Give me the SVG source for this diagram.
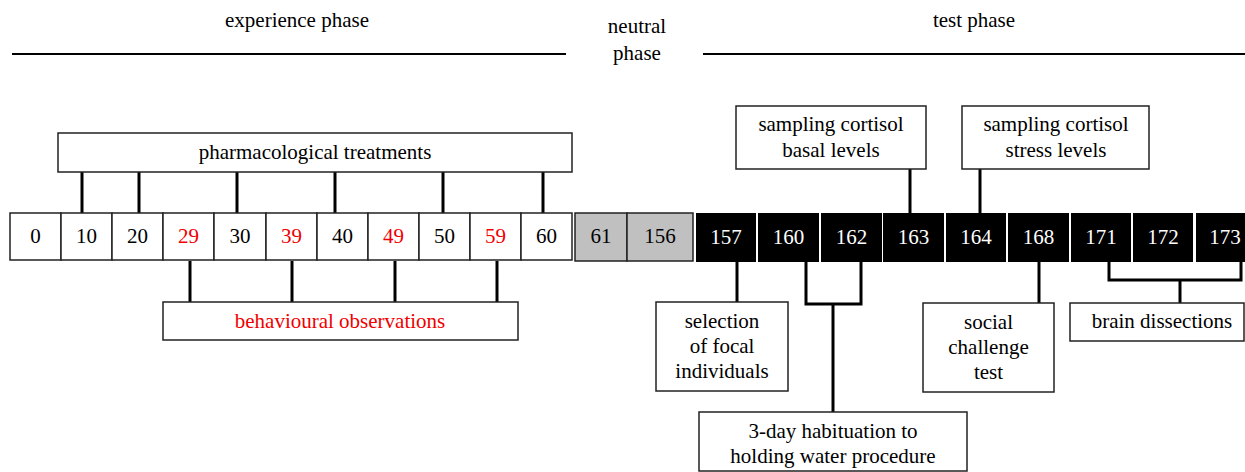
<svg xmlns="http://www.w3.org/2000/svg" width="1245" height="472" viewBox="0 0 1245 472">
<style>
text{font-size:21px;text-anchor:middle;fill:#000}
.red{fill:#f00000}
.wt{fill:#fff}
.box{fill:#fff;stroke:#222;stroke-width:1.5}
.cell{fill:#fff;stroke:#222;stroke-width:1.5}
.gray{fill:#c0c0c0;stroke:#222;stroke-width:1.5}
.blk{fill:#000}
.con{fill:none;stroke:#000;stroke-width:3}
.phase{stroke:#000;stroke-width:2}
</style>
<g font-family="'Liberation Serif', 'DejaVu Serif', serif">
<g id="phases">
<text x="297" y="27">experience phase</text>
<line class="phase" x1="12" y1="54" x2="566" y2="54"/>
<text x="637" y="33">neutral</text>
<text x="637" y="60">phase</text>
<text x="974" y="27">test phase</text>
<line class="phase" x1="703" y1="54" x2="1245" y2="54"/>
</g>
<g id="connectors">
<line class="con" x1="82" y1="172" x2="82" y2="213"/>
<line class="con" x1="139" y1="172" x2="139" y2="213"/>
<line class="con" x1="237" y1="172" x2="237" y2="213"/>
<line class="con" x1="335" y1="172" x2="335" y2="213"/>
<line class="con" x1="443" y1="172" x2="443" y2="213"/>
<line class="con" x1="543" y1="172" x2="543" y2="213"/>
<line class="con" x1="190" y1="261" x2="190" y2="302"/>
<line class="con" x1="292" y1="261" x2="292" y2="302"/>
<line class="con" x1="395" y1="261" x2="395" y2="302"/>
<line class="con" x1="497" y1="261" x2="497" y2="302"/>
<line class="con" x1="910" y1="169" x2="910" y2="213"/>
<line class="con" x1="980" y1="169" x2="980" y2="213"/>
<line class="con" x1="737" y1="262" x2="737" y2="302"/>
<polyline class="con" points="806,262 806,304 861,304 861,262"/>
<line class="con" x1="833" y1="304" x2="833" y2="412"/>
<line class="con" x1="1039" y1="262" x2="1039" y2="303"/>
<polyline class="con" points="1109,262 1109,280 1241,280 1241,262"/>
<line class="con" x1="1180" y1="280" x2="1180" y2="303"/>
</g>
<g id="pharmacological-treatments">
<rect class="box" x="58" y="133" width="514" height="39"/>
<text x="315" y="159">pharmacological treatments</text>
</g>
<g id="behavioural-observations">
<rect class="box" x="163" y="302" width="355" height="38"/>
<text class="red" x="340" y="328">behavioural observations</text>
</g>
<g id="day-0"><rect class="cell" x="10" y="213" width="51" height="47"/><text x="35.5" y="243">0</text></g>
<g id="day-10"><rect class="cell" x="61" y="213" width="51" height="47"/><text x="86.5" y="243">10</text></g>
<g id="day-20"><rect class="cell" x="112" y="213" width="51" height="47"/><text x="137.5" y="243">20</text></g>
<g id="day-29"><rect class="cell" x="163" y="213" width="51" height="47"/><text class="red" x="188.5" y="243">29</text></g>
<g id="day-30"><rect class="cell" x="214" y="213" width="52" height="47"/><text x="240" y="243">30</text></g>
<g id="day-39"><rect class="cell" x="266" y="213" width="51" height="47"/><text class="red" x="291.5" y="243">39</text></g>
<g id="day-40"><rect class="cell" x="317" y="213" width="51" height="47"/><text x="342.5" y="243">40</text></g>
<g id="day-49"><rect class="cell" x="368" y="213" width="51" height="47"/><text class="red" x="393.5" y="243">49</text></g>
<g id="day-50"><rect class="cell" x="419" y="213" width="51" height="47"/><text x="444.5" y="243">50</text></g>
<g id="day-59"><rect class="cell" x="470" y="213" width="51" height="47"/><text class="red" x="495.5" y="243">59</text></g>
<g id="day-60"><rect class="cell" x="521" y="213" width="51" height="47"/><text x="546.5" y="243">60</text></g>
<g id="day-61"><rect class="gray" x="575" y="213" width="52" height="48"/><text x="601" y="243">61</text></g>
<g id="day-156"><rect class="gray" x="627" y="213" width="66" height="48"/><text x="660" y="243">156</text></g>
<g id="day-157"><rect class="blk" x="696" y="213" width="60" height="49"/><text class="wt" x="726" y="244">157</text></g>
<g id="day-160"><rect class="blk" x="758" y="213" width="61" height="49"/><text class="wt" x="788.5" y="244">160</text></g>
<g id="day-162"><rect class="blk" x="821" y="213" width="61" height="49"/><text class="wt" x="851.5" y="244">162</text></g>
<g id="day-163"><rect class="blk" x="883" y="213" width="61" height="49"/><text class="wt" x="913.5" y="244">163</text></g>
<g id="day-164"><rect class="blk" x="946" y="213" width="60" height="49"/><text class="wt" x="976" y="244">164</text></g>
<g id="day-168"><rect class="blk" x="1008" y="213" width="61" height="49"/><text class="wt" x="1038.5" y="244">168</text></g>
<g id="day-171"><rect class="blk" x="1071" y="213" width="60" height="49"/><text class="wt" x="1101" y="244">171</text></g>
<g id="day-172"><rect class="blk" x="1133" y="213" width="60" height="49"/><text class="wt" x="1163" y="244">172</text></g>
<g id="day-173"><rect class="blk" x="1196" y="213" width="49" height="49"/><text class="wt" x="1225" y="244">173</text></g>
<g id="sampling-basal">
<rect class="box" x="736" y="106" width="190" height="63"/>
<text x="831" y="131">sampling cortisol</text>
<text x="831" y="157">basal levels</text>
</g>
<g id="sampling-stress">
<rect class="box" x="962" y="106" width="187" height="63"/>
<text x="1056" y="131">sampling cortisol</text>
<text x="1056" y="157">stress levels</text>
</g>
<g id="selection">
<rect class="box" x="656" y="302" width="132" height="89"/>
<text x="722" y="328">selection</text>
<text x="722" y="353">of focal</text>
<text x="722" y="378">individuals</text>
</g>
<g id="habituation">
<rect class="box" x="699" y="412" width="268" height="59"/>
<text x="833" y="438">3-day habituation to</text>
<text x="833" y="463">holding water procedure</text>
</g>
<g id="social-challenge">
<rect class="box" x="923" y="303" width="131" height="89"/>
<text x="988.5" y="329">social</text>
<text x="988.5" y="354">challenge</text>
<text x="988.5" y="379">test</text>
</g>
<g id="brain-dissections">
<rect class="box" x="1070" y="303" width="174" height="38"/>
<text x="1162" y="328">brain dissections</text>
</g>
</g>
</svg>
